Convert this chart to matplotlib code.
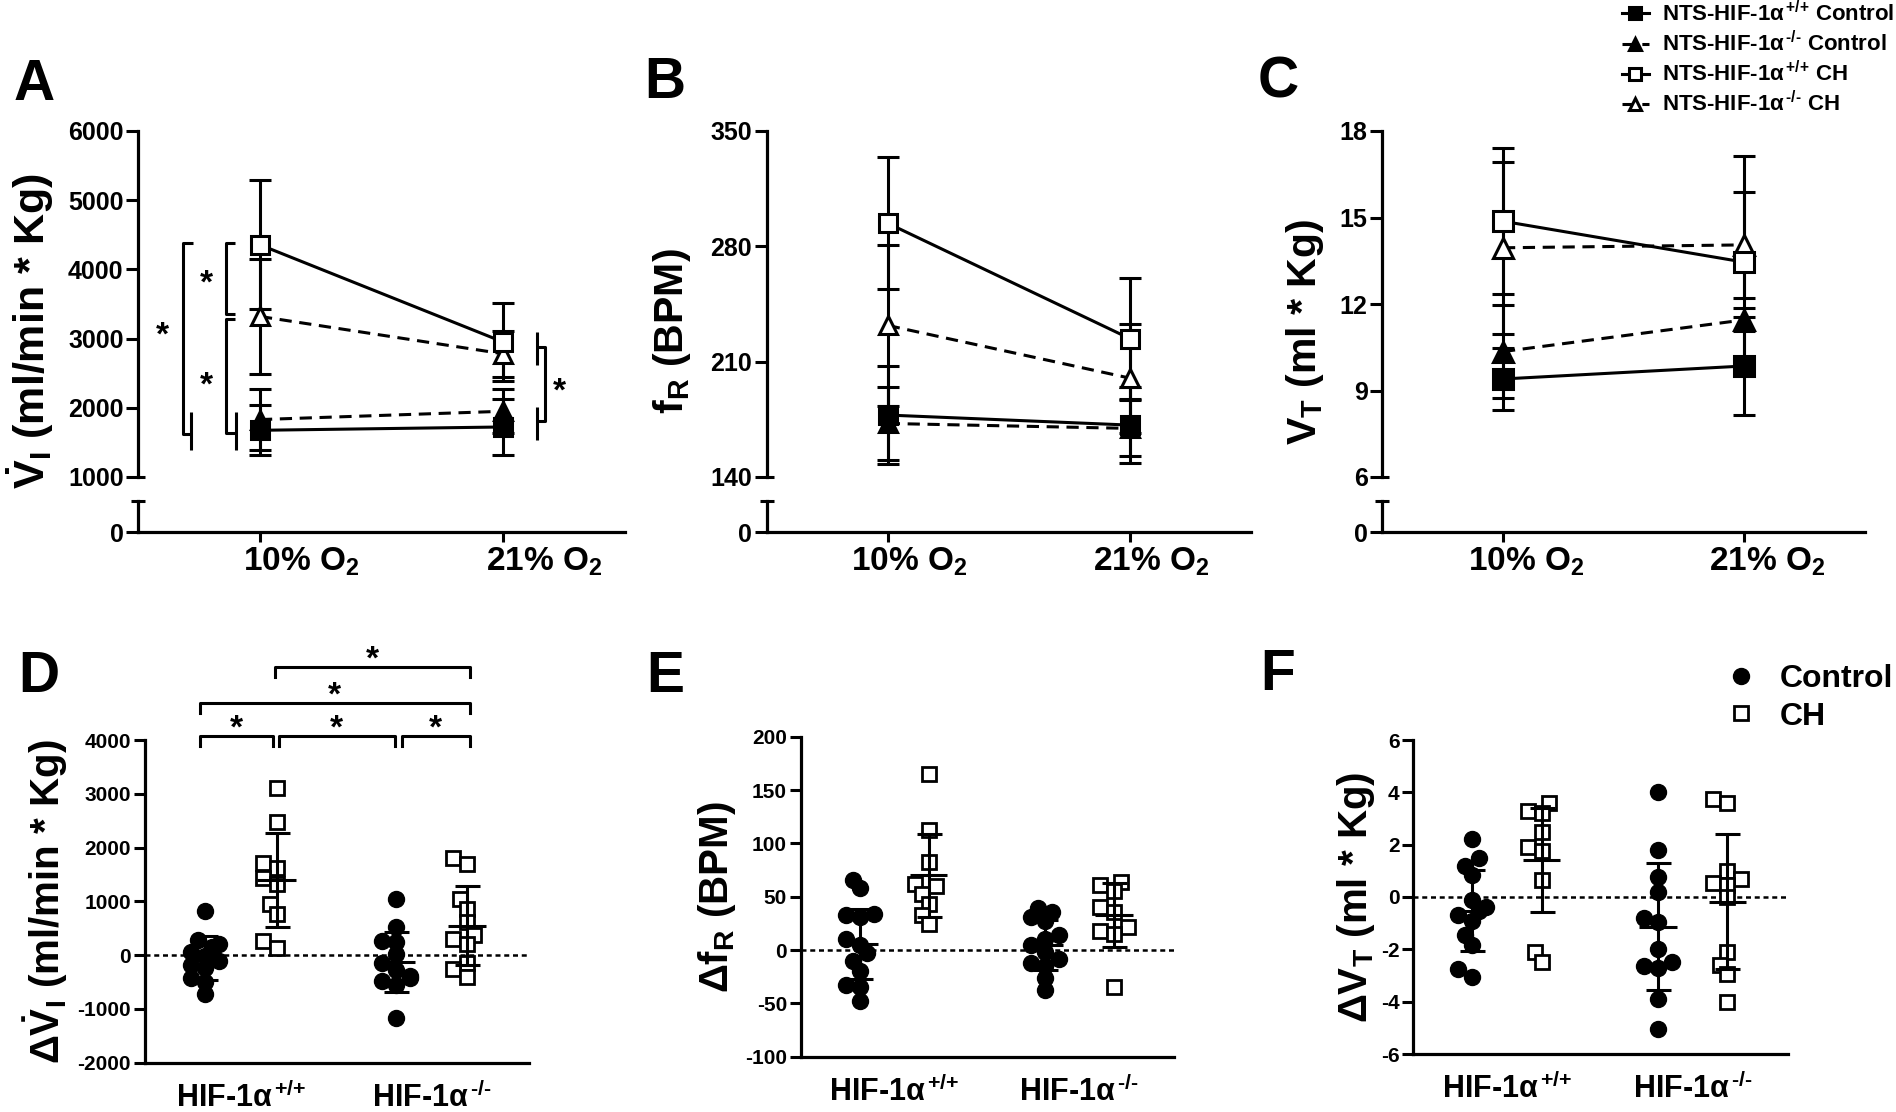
import numpy as np
import matplotlib
matplotlib.use("Agg")
import matplotlib.pyplot as plt
import matplotlib.transforms as mtransforms
from matplotlib.lines import Line2D

W, H = 1896, 1112
FONT = "Liberation Sans"

plt.rcParams.update({
    "font.family": [FONT, "DejaVu Sans"],
    "font.weight": "bold",
    "mathtext.fontset": "custom",
    "mathtext.rm": FONT + ":bold",
    "mathtext.bf": FONT + ":bold",
    "mathtext.it": FONT + ":bold",
    "mathtext.sf": FONT + ":bold",
    "mathtext.default": "bf",
    "axes.unicode_minus": False,
    "axes.linewidth": 2.3,
})

HY = "\u2010"  # plain hyphen, so mathtext does not turn it into a long minus
WT = r"$^{\,{+}/{+}}$"
KO = r"$^{\," + HY + "/" + HY + "}$"

# ---------------- data: panels A-C, mean and SD at 10% / 21% O2 ----------------
# series order: HIF+/+ Control, HIF-/- Control, HIF+/+ CH, HIF-/- CH
conditions = ["10% O$_2$", "21% O$_2$"]
series_labels = ["NTS-HIF-1α" + WT + " Control", "NTS-HIF-1α" + KO + " Control",
                 "NTS-HIF-1α" + WT + " CH", "NTS-HIF-1α" + KO + " CH"]

vi_means = [[1675, 1723], [1830, 1950], [4355, 2950], [3320, 2780]]
vi_sds = [[361, 410], [444, 318], [930, 560], [830, 330]]

fr_means = [[177.6, 171.5], [172.5, 169.5], [294, 224], [232, 200]]
fr_sds = [[30, 23], [22, 17], [40, 36.6], [49, 33]]

vt_means = [[9.4, 9.85], [10.35, 11.45], [14.87, 13.45], [13.95, 14.05]]
vt_sds = [[1.08, 1.7], [1.6, 0.4], [2.53, 3.7], [2.98, 1.85]]

# ---------------- data: panels D-F, individual deltas ----------------
# group order: HIF+/+ Control, HIF+/+ CH, HIF-/- Control, HIF-/- CH
group_labels = ["HIF-1α" + WT, "HIF-1α" + KO]

dvi_wt_ctrl = [820, 280, 200, 150, 60, -20, -100, -180, -230, -420, -500, -720]
dvi_wt_ch = [3100, 2480, 1720, 1620, 1430, 1320, 950, 760, 260, 140]
dvi_ko_ctrl = [1050, 520, 270, 240, 20, -150, -280, -380, -430, -480, -560, -1160]
dvi_ko_ch = [1800, 1700, 1050, 860, 620, 380, 300, 200, -150, -260, -400]
dvi_means = [-50, 1400, -130, 550]
dvi_sds = [410, 880, 560, 730]

dfr_wt_ctrl = [66, 58, 34, 33, 31, 10, 5, -3, -10, -20, -33, -35, -48]
dfr_wt_ch = [165, 113, 83, 62, 60, 53, 43, 33, 24]
dfr_ko_ctrl = [39, 36, 31, 27, 14, 10, 5, -2, -8, -12, -15, -26, -37]
dfr_ko_ch = [64, 61, 55, 40, 36, 22, 18, 15, -35]
dfr_means = [5.8, 70, 4.9, 33]
dfr_sds = [33, 39, 23.5, 30]

dvt_wt_ctrl = [2.2, 1.5, 1.2, 0.85, -0.1, -0.4, -0.55, -0.7, -0.9, -1.45, -1.85, -2.75, -3.05]
dvt_wt_ch = [3.6, 3.3, 3.2, 2.5, 1.9, 1.75, 0.65, -2.1, -2.5]
dvt_ko_ctrl = [4.0, 1.8, 0.75, 0.2, -0.8, -0.95, -2.0, -2.5, -2.65, -2.7, -3.9, -5.05]
dvt_ko_ch = [3.75, 3.6, 1.0, 0.7, 0.55, 0.45, 0.0, -2.1, -2.6, -2.95, -4.0]
dvt_means = [-0.53, 1.41, -1.13, -0.18]
dvt_sds = [1.55, 2.0, 2.43, 2.58]

# significance annotations (panel A: polylines + stars, panel D: brackets)
a_lines = [([-0.277, -0.317, -0.317, -0.282], [4387, 4387, 1617, 1617]),
           ([-0.282, -0.282], [1940, 1386]),
           ([-0.104, -0.139, -0.139, -0.104], [4387, 4387, 3361, 3361]),
           ([-0.104, -0.139, -0.139, -0.098], [3280, 3280, 1636, 1636]),
           ([-0.098, -0.098], [1940, 1386]),
           ([1.133, 1.170, 1.170, 1.133], [2879, 2879, 1809, 1809]),
           ([1.138, 1.138], [3096, 2615]),
           ([1.138, 1.138], [2012, 1530])]
a_stars = [(-0.40, 3145), (-0.22, 3890), (-0.22, 2422), (1.23, 2325)]
d_brackets = [(-0.08, 0.95, 4074), (1.03, 2.66, 4074), (2.76, 3.72, 4074),
              (-0.08, 3.72, 4680), (0.98, 3.72, 5360)]

fig = plt.figure(figsize=(W / 100, H / 100), dpi=100)
LW = 2.2


def px_axes(l, t, r, b):
    return fig.add_axes([l / W, 1 - b / H, (r - l) / W, (b - t) / H])


def star(ax, x, y, size=24):
    off = mtransforms.ScaledTranslation(0, -7 / 100, fig.dpi_scale_trans)
    ax.text(x, y, "*", ha="center", va="center", fontsize=size,
            transform=ax.transData + off, clip_on=False)


STYLES = [dict(marker="s", mfc="k", ls="-"),
          dict(marker="^", mfc="k", ls=(0, (4, 2.5))),
          dict(marker="s", mfc="w", ls="-"),
          dict(marker="^", mfc="w", ls=(0, (4, 2.5)))]

TOP, BREAK, LOW_TOP, ZERO = 131, 477, 501, 532


def line_panel(left, right, means, sds, ylim, yticks, ylabel, ylab_x, lab_dx, ms, ylab_size):
    ax = px_axes(left, TOP, right, BREAK)
    axb = px_axes(left, LOW_TOP, right, ZERO)
    for a in (ax, axb):
        a.set_xlim(-0.5, 1.5)
        a.spines[["top", "right"]].set_visible(False)
        a.tick_params(axis="y", length=8.6, width=LW, pad=2, labelsize=18)
        a.patch.set_alpha(0)
    ax.spines["bottom"].set_visible(False)
    ax.set_xticks([])
    ax.set_ylim(*ylim)
    ax.set_yticks(yticks)
    axb.set_ylim(0, 1)
    axb.set_yticks([0])
    axb.set_xticks([0, 1], conditions)
    axb.tick_params(axis="x", length=7, width=LW, pad=3, labelsize=24)
    shift = mtransforms.ScaledTranslation(lab_dx / 100, 0, fig.dpi_scale_trans)
    for lbl in axb.get_xticklabels():
        lbl.set_transform(lbl.get_transform() + shift)
    stub = 7 / (right - left)
    ax.plot([0, stub], [ylim[0]] * 2, transform=ax.get_yaxis_transform(),
            color="k", lw=LW, clip_on=False, solid_capstyle="butt")
    axb.plot([-stub, stub], [1, 1], transform=axb.get_yaxis_transform(),
             color="k", lw=LW, clip_on=False, solid_capstyle="butt")
    x = np.arange(len(conditions))
    handles = []
    for i in [1, 0, 3, 2]:
        ax.errorbar(x, means[i], yerr=sds[i], fmt="none", ecolor="k", elinewidth=LW,
                    capsize=8, capthick=LW, zorder=2, clip_on=False)
    for i in [1, 0, 3, 2]:
        st = STYLES[i]
        h, = ax.plot(x, means[i], color="k", lw=LW, ls=st["ls"], marker=st["marker"],
                     mfc=st["mfc"], mec="k", mew=LW, ms=ms, zorder=3, clip_on=False)
        handles.append((i, h))
    fig.text(ylab_x / W, 1 - (TOP + ZERO) / 2 / H, ylabel, rotation=90,
             ha="center", va="center", fontsize=ylab_size)
    handles.sort(key=lambda t: t[0])
    return ax, [h for _, h in handles]


GX = [0, 1, 2.68, 3.68]


def swarm(vals, unit_y, d=11.0, step=7.0):
    vals = np.asarray(vals, dtype=float)
    offs = np.zeros(len(vals))
    placed = []
    for idx in np.argsort(vals):
        y = vals[idx] * unit_y
        dx = 0.0
        for k in [0, -1, 1, -2, 2]:
            dx = k * step
            if all((dx - px) ** 2 + (y - py) ** 2 >= d * d for px, py in placed):
                break
        offs[idx] = dx
        placed.append((dx, y))
    return offs


def scatter_panel(left, top, right, bottom, groups, means, sds, ylim, yticks, ylabel, ylab_x):
    ax = px_axes(left, top, right, bottom)
    ax.set_xlim(-0.85, 4.55)
    ax.set_ylim(*ylim)
    ax.set_yticks(yticks)
    ax.spines[["top", "right"]].set_visible(False)
    ax.patch.set_alpha(0)
    ax.axhline(0, color="k", lw=1.8, ls=(0, (2, 1.5)), zorder=1)
    unit_x = (right - left) / 5.4
    unit_y = (bottom - top) / (ylim[1] - ylim[0])
    for i, vals in enumerate(groups):
        xs = GX[i] + swarm(vals, unit_y) / unit_x
        if i % 2 == 0:
            ax.plot(xs, vals, "o", color="k", ms=11.5, zorder=2, clip_on=False)
        else:
            ax.plot(xs, vals, "s", mfc="w", mec="k", mew=2.0, ms=10, zorder=2, clip_on=False)
        ax.errorbar(GX[i], means[i], yerr=sds[i], fmt="none", ecolor="k", elinewidth=LW,
                    capsize=9, capthick=LW, zorder=3)
        ax.plot([GX[i] - 0.27, GX[i] + 0.27], [means[i]] * 2, color="k", lw=LW,
                zorder=3, solid_capstyle="butt")
    ax.set_xticks([(GX[0] + GX[1]) / 2, (GX[2] + GX[3]) / 2], group_labels)
    ax.tick_params(axis="x", length=0, pad=14, labelsize=22)
    ax.tick_params(axis="y", length=8, width=LW, pad=2, labelsize=15)
    fig.text(ylab_x / W, 1 - (top + bottom) / 2 / H, ylabel, rotation=90,
             ha="center", va="center", fontsize=29)
    return ax


# ---------------- top row ----------------
axA, handles = line_panel(138.3, 625, vi_means, vi_sds, (1000, 6000), range(1000, 6001, 1000),
                          r"$\dot{V}_I$ (ml/min * Kg)", 30, 41, 12.5, 31)
for xs, ys in a_lines:
    axA.plot(xs, ys, color="k", lw=LW, clip_on=False, solid_capstyle="butt")
for x, y in a_stars:
    star(axA, x, y)

line_panel(766.7, 1251, fr_means, fr_sds, (140, 350), [140, 210, 280, 350],
           "f$_R$ (BPM)", 672, 21, 12.5, 29.5)
line_panel(1382.3, 1865, vt_means, vt_sds, (6, 18), [6, 9, 12, 15, 18],
           "V$_T$ (ml * Kg)", 1305, 23, 15, 29.5)

fig.legend(handles, series_labels, loc="upper left", bbox_to_anchor=(1622 / W, 1 - 1 / H),
           frameon=False, fontsize=16, handlelength=1.2, handletextpad=0.6,
           labelspacing=0.22, markerscale=0.72, borderpad=0, borderaxespad=0)

# ---------------- bottom row ----------------
axD = scatter_panel(145, 740, 529, 1062.7, [dvi_wt_ctrl, dvi_wt_ch, dvi_ko_ctrl, dvi_ko_ch],
                    dvi_means, dvi_sds, (-2000, 4000), range(-2000, 4001, 1000),
                    r"Δ$\dot{V}_I$ (ml/min * Kg)", 46)
for x0, x1, y in d_brackets:
    axD.plot([x0, x0, x1, x1], [y - 185, y, y, y - 185], color="k", lw=LW, clip_on=False)
    star(axD, (x0 + x1) / 2, y + 265)

scatter_panel(801, 736.7, 1174, 1056.7, [dfr_wt_ctrl, dfr_wt_ch, dfr_ko_ctrl, dfr_ko_ch],
              dfr_means, dfr_sds, (-100, 200), range(-100, 201, 50), "Δf$_R$ (BPM)", 717)
scatter_panel(1413.3, 740, 1787.7, 1054, [dvt_wt_ctrl, dvt_wt_ch, dvt_ko_ctrl, dvt_ko_ch],
              dvt_means, dvt_sds, (-6, 6), range(-6, 7, 2), "ΔV$_T$ (ml * Kg)", 1356)

leg_h = [Line2D([], [], ls="none", marker="o", color="k", ms=11.5),
         Line2D([], [], ls="none", marker="s", mfc="w", mec="k", mew=2.0, ms=10)]
fig.legend(leg_h, ["Control", "CH"], loc="upper left", bbox_to_anchor=(1725 / W, 1 - 664 / H),
           frameon=False, fontsize=23, handlelength=1.0, handletextpad=0.7,
           labelspacing=0.24, borderpad=0, borderaxespad=0)

# panel letters
for letter, x, y in [("A", 14, 100), ("B", 644, 98), ("C", 1258, 98),
                     ("D", 18, 692), ("E", 646, 692), ("F", 1260, 690)]:
    fig.text(x / W, 1 - y / H, letter, fontsize=41, ha="left", va="baseline")

fig.savefig("out.png", dpi=100)
